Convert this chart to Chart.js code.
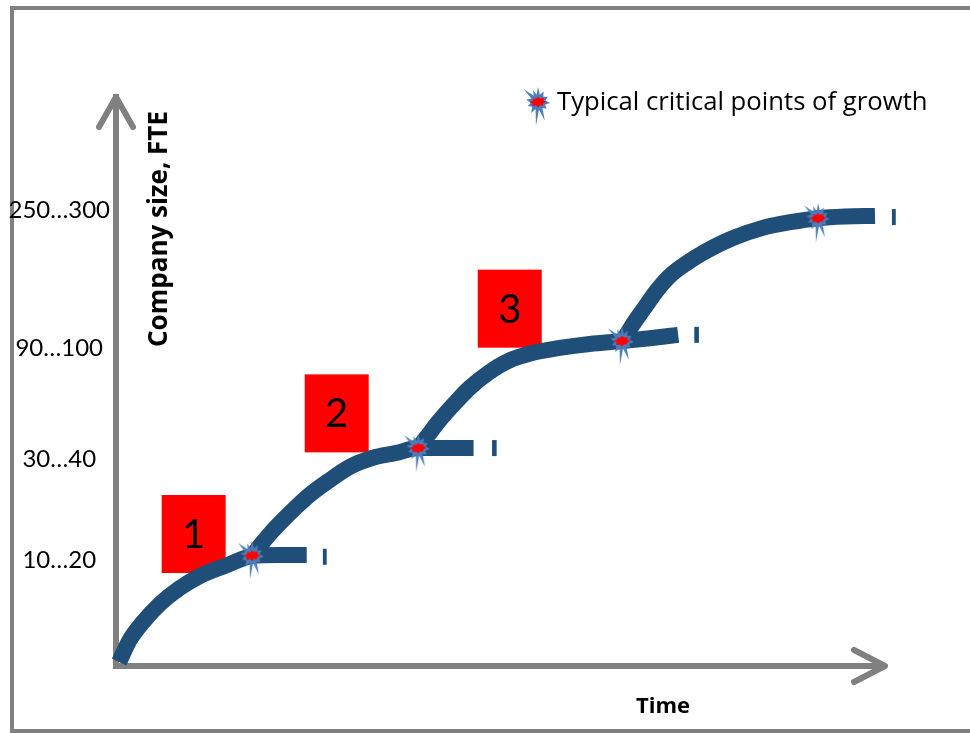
<!DOCTYPE html>
<html><head><meta charset="utf-8">
<script src="https://cdn.jsdelivr.net/npm/chart.js@4.4.1/dist/chart.umd.min.js"></script>
<style>html,body{margin:0;padding:0;background:#fff;overflow:hidden}</style>
</head><body>
<canvas id="c" width="970" height="733"></canvas>
<script>
// ---- data (arbitrary units: time 0..100, company size 0..100) ----
const stage1Time = [0.4, 1.8, 3.5, 5.7, 8.3, 10.9, 14.2, 17.7, 21.3, 24.8];
const stage1Size = [0.7, 4.6, 7.7, 10.9, 13.7, 15.8, 17.6, 19.3, 19.5, 19.5];
const stage2Time = [17.7, 18.7, 20.0, 21.6, 23.4, 25.2, 27.6, 30.4, 33.4, 36.3, 39.3, 42.8, 46.5];
const stage2Size = [19.3, 21.1, 23.2, 25.5, 27.9, 30.1, 32.5, 35.0, 36.6, 37.4, 38.3, 38.3, 38.3];
const stage3Time = [39.3, 40.6, 42.1, 44.0, 46.0, 48.4, 51.0, 54.1, 57.7, 61.6, 65.8, 69.4, 73.1];
const stage3Size = [38.3, 40.6, 43.2, 46.1, 48.9, 51.5, 53.6, 55.0, 55.9, 56.6, 57.1, 57.6, 58.2];
const stage4Time = [65.8, 67.1, 68.7, 70.4, 72.3, 74.4, 76.7, 80.2, 84.1, 87.7, 91.3, 94.8, 98.7];
const stage4Size = [56.9, 59.8, 62.9, 66.1, 68.9, 71.0, 72.9, 75.2, 77.0, 78.0, 78.7, 79.0, 79.1];
const tailDashStart = [26.9, 48.9, 75.2, 100.9];
const tailDashEnd   = [27.4, 49.5, 75.8, 101.4];
const tailDashSize  = [19.2, 38.3, 58.2, 78.9];
const criticalTime = [17.7, 39.3, 65.8, 91.3];
const criticalSize = [19.4, 38.3, 57.1, 78.7];
const sizeTickValues = [18.5, 36.4, 55.9, 80.1];
const sizeTickLabels = ['10…20', '30…40', '90…100', '250…300'];
const stageNames = ['1', '2', '3'];
const stageLabelTime = [10.1, 28.7, 51.2];
const stageLabelSize = [23.2, 44.4, 62.8];
const legendLabel = 'Typical critical points of growth';
const yTitle = 'Company size, FTE';
const xTitle = 'Time';

// ---- styles ----
const FONT = 'Lato, "Open Sans", sans-serif';
const FONT2 = '"Open Sans", Lato, sans-serif';
const CURVE = '#1F4E79';
const GRAY = '#808080';

function makeStar() {
  const c = document.createElement('canvas'); c.width = 48; c.height = 52;
  const g = c.getContext('2d'); const cx = 24, cy = 26;
  const spikes = [[0,15],[28,12],[62,11],[95,12],[128,11],[160,20],[185,24],[212,13],[248,11],[282,12],[312,19],[338,13]];
  g.beginPath();
  spikes.forEach(([a, r], i) => {
    const ang = a * Math.PI / 180;
    const x = cx + r * Math.sin(ang), y = cy - r * Math.cos(ang);
    const next = i === spikes.length - 1 ? spikes[0][0] + 360 : spikes[i + 1][0];
    const mid = (a + next) / 2 * Math.PI / 180, ri = 7.5;
    if (i === 0) g.moveTo(x, y); else g.lineTo(x, y);
    g.lineTo(cx + ri * Math.sin(mid), cy - ri * Math.cos(mid));
  });
  g.closePath(); g.fillStyle = '#4A7EBB'; g.fill();
  const rr = [8,5.5,7,5,7.5,5.5,8,6,8.5,5.5,7,5,7.5,5.5,8,6];
  g.beginPath();
  rr.forEach((r, i) => {
    const ang = i / rr.length * 2 * Math.PI;
    const x = cx + r * Math.cos(ang), y = cy + r * 0.7 * Math.sin(ang);
    if (i) g.lineTo(x, y); else g.moveTo(x, y);
  });
  g.closePath(); g.fillStyle = '#FF0000'; g.fill();
  return c;
}
const star = makeStar();

const zip = (xs, ys) => xs.map((x, i) => ({x, y: ys[i]}));
const curveDs = (xs, ys) => ({
  type: 'line', data: zip(xs, ys), borderColor: CURVE, borderWidth: 16,
  pointRadius: 0, cubicInterpolationMode: 'monotone', fill: false, clip: false,
  borderCapStyle: 'butt', borderJoinStyle: 'round', order: 1
});
const datasets = [
  { type: 'scatter', label: legendLabel, data: zip(criticalTime, criticalSize),
    pointStyle: star, pointRadius: 12, clip: false, order: 0 },
  curveDs(stage1Time, stage1Size), curveDs(stage2Time, stage2Size),
  curveDs(stage3Time, stage3Size), curveDs(stage4Time, stage4Size),
  ...tailDashStart.map((s, i) => ({ ...curveDs([s, tailDashEnd[i]], [tailDashSize[i], tailDashSize[i]]), cubicInterpolationMode: 'default', tension: 0 }))
];

const decor = {
  id: 'decor',
  beforeDraw(chart) {
    const {ctx, width} = chart;
    ctx.save();
    ctx.fillStyle = '#fff'; ctx.fillRect(0, 0, width, chart.height);
    ctx.strokeStyle = GRAY; ctx.lineWidth = 4;
    ctx.beginPath(); ctx.moveTo(width + 5, 8); ctx.lineTo(12, 8); ctx.lineTo(12, 731); ctx.lineTo(width + 5, 731); ctx.stroke();
    ctx.restore();
  },
  beforeDatasetsDraw(chart) {
    const {ctx, scales: {x, y}} = chart;
    ctx.save();
    stageNames.forEach((n, i) => {
      const cx = x.getPixelForValue(stageLabelTime[i]), cy = y.getPixelForValue(stageLabelSize[i]);
      ctx.fillStyle = '#FF0000'; ctx.fillRect(cx - 32, cy - 39, 64, 78);
      ctx.fillStyle = '#000'; ctx.font = '40px ' + FONT; ctx.textAlign = 'center'; ctx.textBaseline = 'middle';
      ctx.fillText(n, cx, cy + 1);
    });
    ctx.restore();
  },
  afterDraw(chart) {
    const {ctx, chartArea: a} = chart;
    ctx.save();
    ctx.strokeStyle = GRAY; ctx.lineWidth = 6; ctx.lineCap = 'round'; ctx.lineJoin = 'round';
    ctx.beginPath(); ctx.moveTo(a.left - 17, a.top + 30); ctx.lineTo(a.left, a.top); ctx.lineTo(a.left + 17, a.top + 30); ctx.stroke();
    ctx.beginPath(); ctx.moveTo(a.right - 31, a.bottom - 16); ctx.lineTo(a.right, a.bottom); ctx.lineTo(a.right - 31, a.bottom + 16); ctx.stroke();
    ctx.fillStyle = '#000'; ctx.textBaseline = 'middle';
    ctx.save(); ctx.translate(160, 229); ctx.rotate(-Math.PI / 2);
    ctx.textAlign = 'center'; ctx.font = 'bold 26px ' + FONT2; ctx.fillText(yTitle, 0, 0); ctx.restore();
    ctx.textAlign = 'center'; ctx.font = 'bold 22px ' + FONT2; ctx.fillText(xTitle, 663, 707);
    ctx.drawImage(star, 538 - 24, 102 - 26);
    ctx.textAlign = 'left'; ctx.font = '25.7px ' + FONT2; ctx.fillText(legendLabel, 557, 103);
    ctx.restore();
  }
};

new Chart(document.getElementById('c'), {
  data: { datasets },
  options: {
    responsive: false, animation: false, events: [],
    layout: { padding: { top: 97, right: 85, bottom: 0, left: 0 } },
    plugins: { legend: { display: false }, tooltip: { enabled: false } },
    scales: {
      x: { type: 'linear', min: 0, max: 100,
        grid: { display: false, drawTicks: false }, ticks: { display: false },
        border: { display: true, color: GRAY, width: 6 },
        afterFit(s) { s.height = 67; } },
      y: { type: 'linear', min: 0, max: 100,
        grid: { display: false, drawTicks: false },
        border: { display: true, color: GRAY, width: 6 },
        ticks: { autoSkip: false, color: '#000', font: { family: FONT, size: 24 }, crossAlign: 'center', padding: 6,
          callback: (v, i) => sizeTickLabels[i] },
        afterBuildTicks(s) { s.ticks = sizeTickValues.map(v => ({ value: v })); },
        afterFit(s) { s.width = 116; } }
    }
  },
  plugins: [decor]
});
</script>
</body></html>
